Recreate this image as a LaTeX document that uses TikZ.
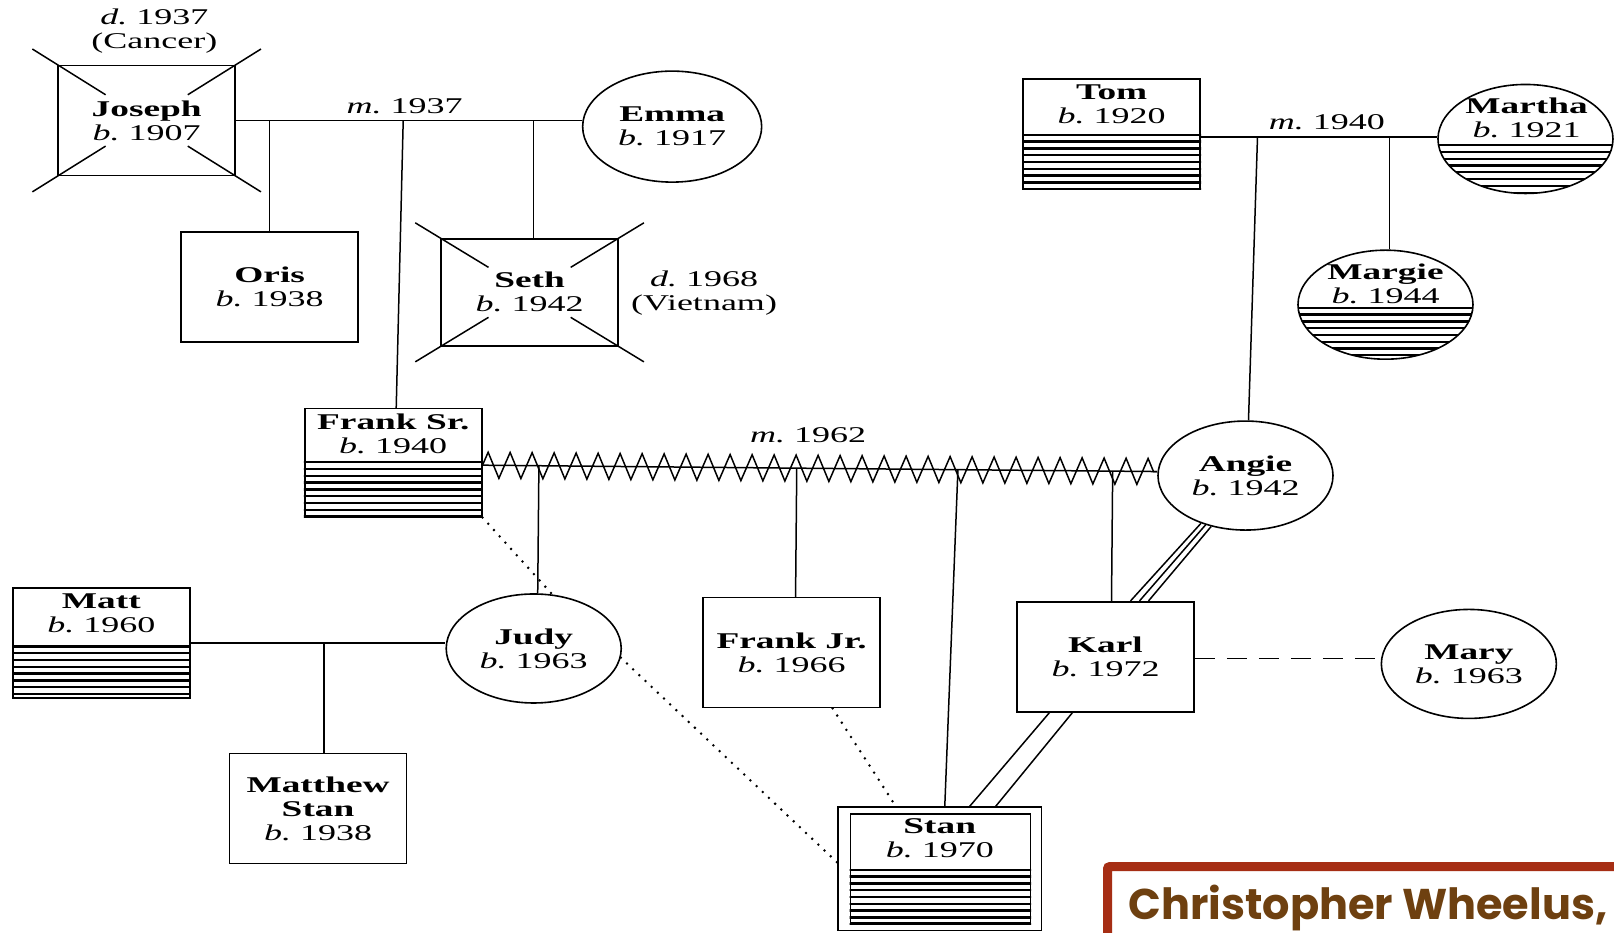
\documentclass[tikz,border=0pt]{standalone}
\usepackage{fontspec}
\setmainfont{Liberation Serif}[FakeStretch=1.6]
\newfontfamily\namefont{Liberation Serif}[FakeStretch=1.66]
\newfontfamily\capfont{Poppins}
\newcommand\nm[1]{{\namefont\bfseries #1}}
\usetikzlibrary{calc,shapes.geometric,decorations.pathmorphing}
\definecolor{framered}{RGB}{166,46,20}
\definecolor{capbrown}{RGB}{110,64,16}

\tikzset{
  every node/.style={font=\fontsize{22.5}{24}\selectfont, align=center, inner sep=0pt},
  person/.style={draw, line width=1.6pt},
  mbox/.style={person, rectangle, minimum width=177pt, minimum height=110pt},
  fcirc/.style={person, ellipse, minimum width=175pt, minimum height=109pt},
  conn/.style={line width=1.5pt},
  hatchline/.style={line width=2.3pt},
  dotline/.style={line width=2.8pt, line cap=round, dash pattern=on 0pt off 8.5pt},
  dashline/.style={line width=1.5pt, dash pattern=on 20pt off 12pt},
  zig/.style={conn, decorate, decoration={zigzag, segment length=22pt, amplitude=13pt}}
}

% horizontal hatching in the lower part of a box: node, left x, right x, top y
\newcommand\hatchbox[4]{%
  \begin{scope}
    \clip (#1.south west) rectangle (#1.north east);
    \foreach \k in {0,...,9} \draw[hatchline] (#2,#4+\k*6.6) -- (#3,#4+\k*6.6);
  \end{scope}}
% the same for an ellipse
\newcommand\hatchoval[4]{%
  \begin{scope}
    \clip (#1.center) ellipse [x radius=87.5pt, y radius=54.5pt];
    \foreach \k in {0,...,9} \draw[hatchline] (#2,#4+\k*6.6) -- (#3,#4+\k*6.6);
  \end{scope}}
% broken diagonal cross over a deceased person
\newcommand\deceased[1]{%
  \foreach \a/\b in {north west/south east, south east/north west,
                     north east/south west, south west/north east}
    \draw[conn] ($(#1.\a)!-0.14!(#1.\b)$) -- ($(#1.\a)!0.27!(#1.\b)$);}

\begin{document}
\begin{tikzpicture}[x=1.0293pt, y=-1.0293pt]
\fill[white] (0,0) rectangle (1568,906);
\useasboundingbox (0,0) rectangle (1568,906);

% ---- first generation
\node[mbox] (Joseph) at (142.5,117) {\nm{Joseph}\\\textit{b.}~1907};
\node (JosephD) at (150,30) {\textit{d.}~1937\\(Cancer)};
\node[fcirc, minimum width=179pt, minimum height=111pt] (Emma) at (653,123) {\nm{Emma}\\\textit{b.}~1917};
\node[mbox] (Tom) at (1080,130) {};
\node (TomT) at (1080,101.5) {\nm{Tom}\\\textit{b.}~1920};
\node[fcirc] (Martha) at (1482,135) {};
\node (MarthaT) at (1483,114.5) {\nm{Martha}\\\textit{b.}~1921};

% ---- second generation
\node[mbox] (Oris) at (262,279) {\nm{Oris}\\\textit{b.}~1938};
\node[mbox, minimum height=107pt] (Seth) at (514.5,284) {\nm{Seth}\\\textit{b.}~1942};
\node (SethD) at (684,285) {\textit{d.}~1968\\(Vietnam)};
\node[fcirc] (Margie) at (1346,296) {};
\node (MargieT) at (1346,275.5) {\nm{Margie}\\\textit{b.}~1944};
\node[mbox, minimum height=108pt] (FrankSr) at (382,449.5) {};
\node (FrankSrT) at (382,421.5) {\nm{Frank Sr.}\\\textit{b.}~1940};
\node[fcirc] (Angie) at (1210,462) {\nm{Angie}\\\textit{b.}~1942};

% ---- third generation
\node[mbox] (Matt) at (98.5,624.5) {};
\node (MattT) at (98.5,596) {\nm{Matt}\\\textit{b.}~1960};
\node[fcirc] (Judy) at (518.5,630) {\nm{Judy}\\\textit{b.}~1963};
\node[mbox] (FrankJr) at (769,634) {\nm{Frank Jr.}\\\textit{b.}~1966};
\node[mbox] (Karl) at (1074,638) {\nm{Karl}\\\textit{b.}~1972};
\node[fcirc] (Mary) at (1427,645) {\nm{Mary}\\\textit{b.}~1963};
\node[mbox] (Matthew) at (309,785.5) {\nm{Matthew}\\\nm{Stan}\\\textit{b.}~1938};
\node[person, rectangle, minimum width=203pt, minimum height=123.5pt] (Stan) at (913,844) {};
\node[person, rectangle, minimum width=180pt, minimum height=109pt] (StanIn) at (913.5,844) {};
\node (StanT) at (913,814.5) {\nm{Stan}\\\textit{b.}~1970};

% ---- hatching
\hatchbox{Tom}{980}{1180}{131}
\hatchoval{Martha}{1390}{1575}{141}
\hatchoval{Margie}{1255}{1440}{299}
\hatchbox{FrankSr}{285}{480}{449}
\hatchbox{Matt}{0}{200}{628}
\hatchbox{StanIn}{815}{1012}{845}

% ---- crosses
\deceased{Joseph}
\deceased{Seth}

% ---- Joseph and Emma
\coordinate (mJE) at (Joseph.east);
\draw[conn] (mJE) -- (mJE -| Emma.west);
\node[anchor=base] (mJEl) at (393,110) {\textit{m.}~1937};
\draw[conn] (Oris.north) -- (Oris.north |- mJE);
\draw[conn] ([xshift=4pt]Seth.north) -- ([xshift=4pt]Seth.north |- mJE);
\draw[conn] ([xshift=3pt]FrankSr.north) -- ([xshift=10pt]FrankSr.north |- mJE);

% ---- Tom and Martha
\coordinate (mTM) at ([yshift=-3pt]Tom.east);
\draw[conn] (mTM) -- (mTM -| Martha.west);
\node[anchor=base] (mTMl) at (1289,126) {\textit{m.}~1940};
\draw[conn] ([xshift=3pt]Angie.north) -- ([xshift=12pt]Angie.north |- mTM);
\draw[conn] ([xshift=4pt]Margie.north) -- ([xshift=4pt]Margie.north |- mTM);

% ---- Frank Sr. and Angie (conflictual marriage)
\coordinate (zl) at ([yshift=-2.5pt]FrankSr.east);
\coordinate (zr) at ([yshift=4pt]Angie.west);
\draw[conn] (zl) -- (zr);
\draw[zig] (zl) -- (zr);
\node[anchor=base] (mFAl) at (785,430) {\textit{m.}~1962};
\draw[conn] ([xshift=4pt]Judy.north) -- ($(zl)!([xshift=4pt]Judy.north)!(zr)$);
\draw[conn] ([xshift=4pt]FrankJr.north) -- ($(zl)!([xshift=4pt]FrankJr.north)!(zr)$);
\draw[conn] ([xshift=5pt]Stan.north) -- ($(zl)!([xshift=15pt]Stan.north)!(zr)$);
\draw[conn] ([xshift=6pt]Karl.north) -- ($(zl)!([xshift=6pt]Karl.north)!(zr)$);

% ---- Matt and Judy
\coordinate (mMJ) at (Matt.east);
\draw[conn] (mMJ) -- (mMJ -| Judy.west);
\draw[conn] ([xshift=6pt]Matthew.north) -- ([xshift=6pt]Matthew.north |- mMJ);

% ---- relationship lines
\draw[conn] (Angie.-133) -- ([xshift=25pt]Karl.north);
\draw[conn] (Angie.-129) -- ([xshift=34pt]Karl.north);
\draw[conn] (Angie.-124) -- ([xshift=43pt]Karl.north);
\draw[conn] ([xshift=-56pt]Karl.south) -- ([xshift=30pt]Stan.north);
\draw[conn] ([xshift=-33pt]Karl.south) -- ([xshift=56pt]Stan.north);
\draw[dashline] ([yshift=-2pt]Karl.east) -- ([yshift=-2pt]Karl.east -| Mary.west);
\draw[dotline] (FrankSr.south east) -- (Judy.71);
\draw[dotline] (Judy.-6) -- ([yshift=6pt]Stan.west);
\draw[dotline] ([xshift=41pt]FrankJr.south) -- ([xshift=-44pt]Stan.north);

% ---- credit box
\draw[framered, fill=white, line width=9pt, rounded corners=2pt] (1076,842) rectangle (1640,980);
\node[anchor=base west, text=capbrown, font=\capfont\bfseries\fontsize{43}{45}\selectfont] (Credit) at (1096,893) {Christopher Wheelus,};
\end{tikzpicture}
\end{document}
